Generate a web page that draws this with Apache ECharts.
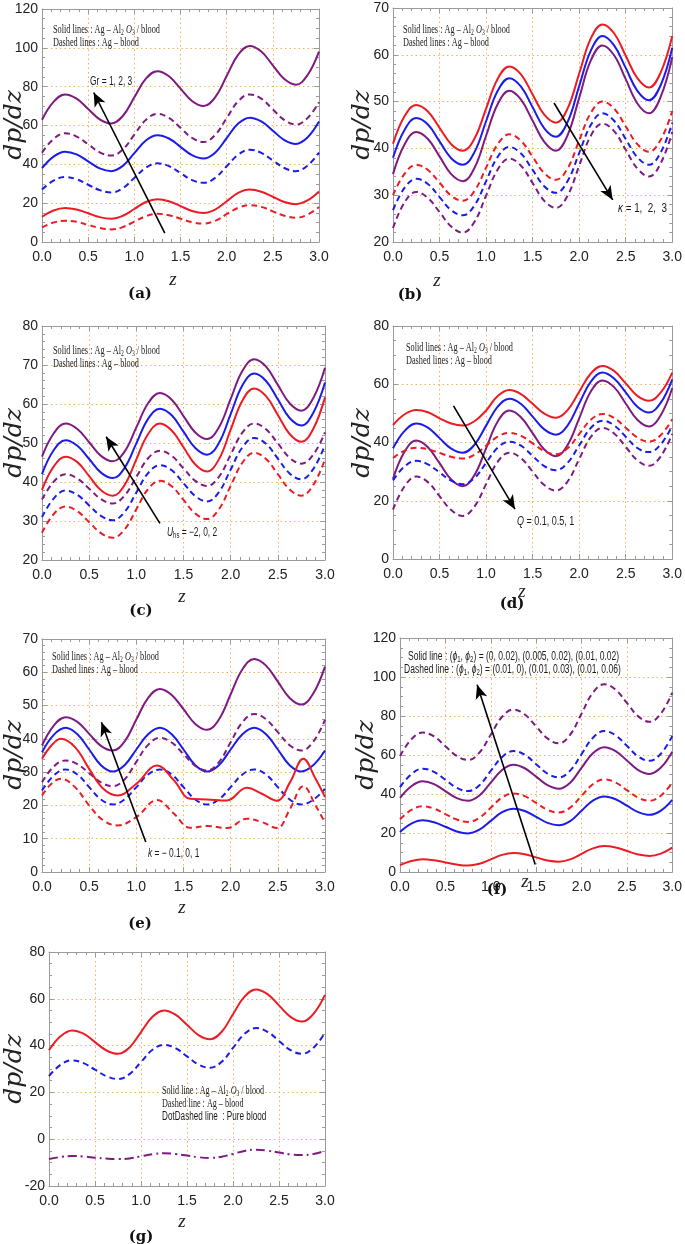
<!DOCTYPE html>
<html>
<head>
<meta charset="utf-8">
<script src="https://cdn.jsdelivr.net/npm/echarts@6/dist/echarts.min.js"></script>
<style>
  html, body { margin: 0; padding: 0; background: #fff; }
  #chart { width: 685px; height: 1244px; }
</style>
</head>
<body>
<div id="chart"></div>
<script>
// z samples every 0.125
const zs = [0, 0.125, 0.25, 0.375, 0.5, 0.625, 0.75, 0.875, 1, 1.125, 1.25, 1.375, 1.5,
            1.625, 1.75, 1.875, 2, 2.125, 2.25, 2.375, 2.5, 2.625, 2.75, 2.875, 3];
const xTicks = ['0.0', '0.5', '1.0', '1.5', '2.0', '2.5', '3.0'];

// (a) Gr = 1, 2, 3
const aPurpleSolid = [63, 72.2, 76, 73.8, 68.5, 63.2, 61, 64.9, 74.5, 84.1, 88, 85.4, 79, 72.6, 70, 74.5, 85.5, 96.5, 101, 98.1, 91, 83.9, 81, 85.9, 98];
const aPurpleDash = [46, 53.1, 56, 54.3, 50.3, 46.2, 44.5, 47.6, 55.3, 62.9, 66, 63.9, 58.8, 53.6, 51.5, 55.1, 63.8, 72.5, 76, 73.8, 68.3, 62.8, 60.5, 63.8, 72];
const aBlueSolid = [38, 44, 46.5, 45.1, 41.5, 37.9, 36.5, 39.2, 45.8, 52.3, 55, 53.3, 49, 44.7, 43, 46, 53.5, 61, 64, 62.1, 57.3, 52.5, 50.5, 53.8, 62];
const aBlueDash = [27, 31.6, 33.5, 32.3, 29.5, 26.7, 25.5, 27.7, 33, 38.3, 40.5, 39.1, 35.5, 31.9, 30.5, 33, 39, 45, 47.5, 45.9, 42, 38.1, 36.5, 39.3, 46];
const aRedSolid = [13, 16.2, 17.5, 16.7, 14.8, 12.8, 12, 13.5, 17, 20.6, 22, 21, 18.5, 16, 15, 16.7, 21, 25.3, 27, 25.9, 23.3, 20.6, 19.5, 21.4, 26];
const aRedDash = [7.5, 10, 11, 10.4, 8.8, 7.2, 6.5, 7.7, 10.5, 13.3, 14.5, 13.8, 12, 10.2, 9.5, 10.9, 14.3, 17.6, 19, 18.1, 15.8, 13.5, 12.5, 14.1, 18];

// (b) kappa = 1, 2, 3
const bRedSolid = [41, 46.9, 49.3, 47.9, 44.4, 40.9, 39.5, 42.1, 48.5, 54.9, 57.5, 55.8, 51.5, 47.2, 45.5, 48.5, 56, 63.5, 66.5, 64.6, 59.8, 55, 53, 56.2, 64];
const bBlueSolid = [38, 44, 46.5, 45.1, 41.5, 37.9, 36.5, 39.2, 45.8, 52.3, 55, 53.2, 48.8, 44.3, 42.5, 45.6, 53.3, 60.9, 64, 62, 57.2, 52.3, 50.3, 53.5, 61.5];
const bPurpleSolid = [34.5, 40.9, 43.5, 42, 38.3, 34.5, 33, 35.8, 42.7, 49.5, 52.3, 50.4, 45.9, 41.4, 39.5, 42.8, 50.8, 58.8, 62, 59.9, 54.8, 49.6, 47.5, 51, 59.5];
const bRedDash = [30, 34.6, 36.5, 35.4, 32.7, 29.9, 28.8, 30.9, 35.9, 40.9, 43, 41.6, 38.2, 34.7, 33.3, 35.7, 41.7, 47.6, 50, 48.5, 44.7, 40.9, 39.3, 41.8, 48];
const bBlueDash = [26.8, 31.6, 33.5, 32.4, 29.6, 26.8, 25.7, 27.8, 33, 38.2, 40.3, 38.9, 35.4, 31.9, 30.5, 33, 39, 45, 47.5, 45.9, 42, 38.1, 36.5, 39.1, 45.5];
const bPurpleDash = [23, 28.5, 30.7, 29.4, 26.4, 23.3, 22, 24.3, 29.9, 35.5, 37.8, 36.3, 32.6, 28.8, 27.3, 29.9, 36.3, 42.7, 45.3, 43.7, 39.7, 35.7, 34, 36.8, 43.5];

// (c) Uhs = -2, 0, 2
const cPurpleSolid = [46.5, 52.5, 55, 53.6, 50.2, 46.7, 45.3, 47.8, 54, 60.2, 62.8, 61.1, 56.9, 52.7, 51, 54, 61.3, 68.5, 71.5, 69.6, 64.9, 60.2, 58.3, 61.5, 69.3];
const cBlueSolid = [42, 48.2, 50.7, 49.3, 45.9, 42.4, 41, 43.6, 49.9, 56.2, 58.8, 57.1, 52.9, 48.7, 47, 50, 57.4, 64.8, 67.8, 65.9, 61.2, 56.4, 54.5, 57.7, 65.5];
const cRedSolid = [38, 44, 46.5, 45.1, 41.5, 37.9, 36.5, 39.2, 45.8, 52.3, 55, 53.2, 48.9, 44.5, 42.7, 45.8, 53.4, 60.9, 64, 62, 57.2, 52.3, 50.3, 53.6, 61.7];
const cPurpleDash = [35.5, 40.1, 42, 40.9, 38.3, 35.6, 34.5, 36.5, 41.3, 46.1, 48, 46.7, 43.5, 40.3, 39, 41.3, 47, 52.7, 55, 53.5, 49.9, 46.2, 44.7, 47, 52.7];
const cBlueDash = [31, 35.8, 37.8, 36.7, 34, 31.3, 30.2, 32.3, 37.3, 42.3, 44.3, 43, 39.7, 36.4, 35, 37.4, 43.2, 48.9, 51.3, 49.8, 46, 42.2, 40.7, 43.3, 49.5];
const cRedDash = [27, 31.8, 33.7, 32.5, 29.7, 26.9, 25.7, 27.8, 33, 38.2, 40.3, 38.9, 35.4, 31.9, 30.5, 33, 39, 45, 47.5, 45.9, 42, 38.1, 36.5, 39.2, 45.8];

// (d) Q = 0.1, 0.5, 1
const dRedSolid = [46, 49.7, 51.2, 50.4, 48.3, 46.5, 45.8, 47.3, 51, 56, 58, 56.6, 53.3, 49.9, 48.5, 51.1, 57.4, 63.7, 66.3, 64.6, 60.3, 56, 54.3, 57.1, 64];
const dBlueSolid = [38, 44, 46.5, 45.1, 41.5, 37.9, 36.5, 39.2, 45.8, 52.3, 55, 53.2, 48.9, 44.5, 42.7, 45.8, 53.4, 60.9, 64, 62, 57.2, 52.3, 50.3, 53.6, 61.7];
const dPurpleSolid = [27.5, 36.9, 40.7, 38.4, 32.9, 27.3, 25, 28.8, 38, 47.2, 51, 48.7, 43.2, 37.6, 35.3, 39.1, 48.3, 57.5, 61.3, 59, 53.4, 47.8, 45.5, 49.3, 58.7];
const dRedDash = [34.7, 37.2, 38.2, 37.7, 36.4, 35.1, 34.5, 35.8, 38.9, 42, 43.3, 42.3, 39.7, 37.1, 36, 38, 42.9, 47.8, 49.8, 48.4, 45.1, 41.7, 40.3, 42.5, 48];
const dBlueDash = [27, 31.8, 33.7, 32.5, 29.7, 26.9, 25.7, 27.8, 33, 38.2, 40.3, 38.9, 35.4, 31.9, 30.5, 33, 39, 45, 47.5, 45.9, 42, 38.1, 36.7, 39.3, 45.8];
const dPurpleDash = [17, 25, 28.3, 26.4, 21.6, 16.8, 14.8, 18, 25.7, 33.4, 36.5, 34.6, 30, 25.4, 23.5, 26.6, 34.3, 41.9, 45, 43.1, 38.5, 33.9, 32, 35.2, 43];

// (e) k = -0.1, 0, 1
const ePurpleSolid = [38, 44, 46.5, 45.1, 41.5, 37.9, 36.5, 39.2, 45.8, 52.3, 55, 53.2, 48.9, 44.5, 42.7, 45.8, 53.4, 60.9, 64, 62, 57.2, 52.3, 50.3, 53.6, 61.7];
const eBlueSolid = [36, 41.2, 43.3, 41.4, 36.8, 32.1, 30.2, 32.1, 36.8, 41.4, 43.3, 41.4, 36.8, 32.1, 30.2, 32.1, 36.8, 41.4, 43.3, 41.4, 36.8, 32.1, 30.2, 32.1, 36.5];
const ePurpleDash = [27, 31.7, 33.5, 32.4, 29.7, 26.9, 25.8, 27.8, 33.1, 38.2, 40.3, 38.9, 35.4, 31.9, 30.5, 33, 39, 45, 47.5, 45.9, 42, 38.1, 36.5, 39.1, 45.7];
const eBlueDash = [24.5, 29, 30.8, 29.3, 25.5, 21.8, 20.3, 21.8, 25.5, 29.3, 30.8, 29.3, 25.5, 21.8, 20.3, 21.8, 25.5, 29.3, 30.8, 29.3, 25.5, 21.8, 20.3, 21.7, 25];
const zsRed = [0, 0.1, 0.2, 0.35, 0.5, 0.65, 0.8, 1, 1.22, 1.4, 1.57, 1.75, 1.96, 2.17, 2.33, 2.49, 2.63, 2.77, 2.9, 3];
const eRedSolid = [34, 38, 40, 37.5, 31, 25, 23, 26.5, 32, 27.5, 22, 21.8, 21.5, 25.3, 23.5, 21.4, 27, 34, 28, 22.5];
const eRedDash = [23, 26.5, 28, 25.5, 20, 15.5, 14, 16.5, 21.6, 17.5, 13.3, 13.8, 13.2, 16, 15, 13.2, 19, 25.8, 20, 14.8];

// (f) (phi1, phi2)
const fPurpleDash = [59.5, 68, 71.5, 69.5, 64.5, 59.5, 57.5, 61.2, 70.4, 79.6, 83.3, 80.8, 74.7, 68.5, 66, 70.4, 81.2, 91.9, 96.3, 93.5, 86.7, 79.8, 77, 81.3, 92];
const fBlueDash = [43.5, 50.2, 53, 51.3, 47.3, 43.2, 41.5, 44.5, 51.8, 59, 62, 60.1, 55.3, 50.5, 48.5, 52, 60.4, 68.8, 72.3, 70.1, 64.7, 59.2, 57, 60.7, 69.7];
const fPurpleSolid = [38, 44, 46.5, 45.1, 41.5, 37.9, 36.5, 39.2, 45.8, 52.3, 55, 53.2, 48.9, 44.5, 42.7, 45.8, 53.4, 60.9, 64, 62, 57.2, 52.3, 50.3, 53.6, 61.7];
const fRedDash = [27, 31.8, 33.7, 32.5, 29.7, 26.9, 25.7, 27.8, 33, 38.2, 40.3, 38.9, 35.4, 31.9, 30.5, 33, 39, 45, 47.5, 45.9, 42, 38.1, 36.5, 39.2, 45.8];
const fBlueSolid = [20.5, 24.8, 26.5, 25.5, 23.2, 20.8, 19.8, 21.7, 26.2, 30.7, 32.5, 31.3, 28.3, 25.2, 24, 26.1, 31.4, 36.6, 38.7, 37.3, 34, 30.7, 29.3, 31.5, 37];
const fRedSolid = [3.5, 5.6, 6.5, 6, 4.9, 3.8, 3.3, 4.2, 6.5, 8.8, 9.7, 9.1, 7.5, 5.9, 5.3, 6.5, 9.3, 12.1, 13.3, 12.6, 10.8, 9, 8.2, 9.4, 12.5];

// (g) nanofluid vs pure blood
const gRedSolid = [38, 44, 46.5, 45.1, 41.5, 37.9, 36.5, 39.2, 45.8, 52.3, 55, 53.2, 48.9, 44.5, 42.7, 45.8, 53.4, 60.9, 64, 62, 57.2, 52.3, 50.3, 53.6, 61.7];
const gBlueDash = [27, 31.8, 33.7, 32.5, 29.7, 26.9, 25.7, 27.8, 33, 38.2, 40.3, 38.9, 35.4, 31.9, 30.5, 33, 39, 45, 47.5, 45.9, 42, 38.1, 36.5, 39.1, 45.5];
const gPurpleDotDash = [-8.5, -7.6, -7.2, -7.4, -7.9, -8.3, -8.5, -8.2, -7.3, -6.4, -6, -6.3, -7, -7.7, -8, -7.5, -6.3, -5, -4.5, -4.9, -5.7, -6.5, -6.8, -6.3, -5];

const RED = '#ec1c24', BLUE = '#1c1ce8', PURPLE = '#7e1a80';
const DASH = [6, 4];
const DOTDASH = [9, 4, 2, 4];

const panels = [
  { tag: '(a)', box: [42, 9, 277, 233], y: [0, 120, 20], minorY: 4,
    lines: [[aPurpleSolid, PURPLE, 'solid'], [aPurpleDash, PURPLE, DASH], [aBlueSolid, BLUE, 'solid'],
            [aBlueDash, BLUE, DASH], [aRedSolid, RED, 'solid'], [aRedDash, RED, DASH]],
    arrow: [[1.33, 4.6], [0.56, 77]], zPos: [173, 280], tagPos: [140, 294], yNamePos: [14, 125] },
  { tag: '(b)', box: [393, 8, 283, 234], y: [20, 70, 10], minorY: 5,
    lines: [[bRedSolid, RED, 'solid'], [bBlueSolid, BLUE, 'solid'], [bPurpleSolid, PURPLE, 'solid'],
            [bRedDash, RED, DASH], [bBlueDash, BLUE, DASH], [bPurpleDash, PURPLE, DASH]],
    arrow: [[1.73, 49.7], [2.36, 29]], zPos: [437, 281], tagPos: [410, 295], yNamePos: [362, 125] },
  { tag: '(c)', box: [42, 326, 283, 234], y: [20, 80, 10], minorY: 5,
    lines: [[cPurpleSolid, PURPLE, 'solid'], [cBlueSolid, BLUE, 'solid'], [cRedSolid, RED, 'solid'],
            [cPurpleDash, PURPLE, DASH], [cBlueDash, BLUE, DASH], [cRedDash, RED, DASH]],
    arrow: [[1.25, 29.4], [0.68, 51.6]], zPos: [182, 597], tagPos: [141, 611], yNamePos: [14, 443] },
  { tag: '(d)', box: [393, 326, 283, 233], y: [0, 80, 20], minorY: 4,
    lines: [[dRedSolid, RED, 'solid'], [dBlueSolid, BLUE, 'solid'], [dPurpleSolid, PURPLE, 'solid'],
            [dRedDash, RED, DASH], [dBlueDash, BLUE, DASH], [dPurpleDash, PURPLE, DASH]],
    arrow: [[0.65, 52.6], [1.31, 17.1]], zPos: [522, 592], tagPos: [512, 604], yNamePos: [362, 443] },
  { tag: '(e)', box: [42, 639, 283, 233], y: [0, 70, 10], minorY: 5,
    lines: [[ePurpleSolid, PURPLE, 'solid'], [eBlueSolid, BLUE, 'solid'], [ePurpleDash, PURPLE, DASH],
            [eBlueDash, BLUE, DASH], [eRedSolid, RED, 'solid', zsRed], [eRedDash, RED, DASH, zsRed]],
    arrow: [[1.1, 9], [0.63, 45]], zPos: [182, 908], tagPos: [140, 924], yNamePos: [14, 755] },
  { tag: '(f)', box: [400, 638, 276, 234], y: [0, 120, 20], minorY: 4,
    lines: [[fPurpleDash, PURPLE, DASH], [fBlueDash, BLUE, DASH], [fPurpleSolid, PURPLE, 'solid'],
            [fRedDash, RED, DASH], [fBlueSolid, BLUE, 'solid'], [fRedSolid, RED, 'solid']],
    arrow: [[1.49, 3.8], [0.85, 96]], zPos: [525, 882], tagPos: [497, 890], yNamePos: [366, 755] },
  { tag: '(g)', box: [49, 952, 276, 234], y: [-20, 80, 20], minorY: 4,
    lines: [[gRedSolid, RED, 'solid'], [gBlueDash, BLUE, DASH], [gPurpleDotDash, PURPLE, DOTDASH]],
    arrow: null, zPos: [182, 1222], tagPos: [141, 1237], yNamePos: [14, 1069] }
];

const tickFont = '"Liberation Sans Narrow", "Liberation Sans", Arial, sans-serif';
const serif = '"Liberation Serif", "Times New Roman", serif';
const FRAME = '#9a9a9a';
const GRIDC = '#efb25a';

const grid = [], xAxis = [], yAxis = [], series = [], graphic = [];

panels.forEach((p, i) => {
  const [l, t, w, h] = p.box;
  grid.push({ left: l, top: t, width: w, height: h });
  const base = {
    gridIndex: i, type: 'value',
    axisLine: { show: true, onZero: false, lineStyle: { color: FRAME, width: 1 } },
    axisTick: { show: true, inside: true, length: 5, lineStyle: { color: FRAME } },
    minorTick: { show: true, length: 3, lineStyle: { color: FRAME } },
  };
  const lbl = { color: '#222', fontFamily: tickFont, fontSize: 14 };
  xAxis.push(Object.assign({}, base, {
    position: 'bottom', min: 0, max: 3, interval: 0.5,
    minorTick: Object.assign({}, base.minorTick, { splitNumber: 5 }),
    axisLabel: Object.assign({}, lbl, { margin: 8, formatter: v => xTicks[Math.round(v / 0.5)] }),
    splitLine: { show: true, lineStyle: { color: GRIDC, type: [1.5, 3], width: 1 } }
  }));
  xAxis.push(Object.assign({}, base, {
    position: 'top', min: 0, max: 3, interval: 0.5,
    minorTick: Object.assign({}, base.minorTick, { splitNumber: 5 }),
    axisLabel: { show: false }, splitLine: { show: false }
  }));
  yAxis.push(Object.assign({}, base, {
    position: 'left', min: p.y[0], max: p.y[1], interval: p.y[2],
    minorTick: Object.assign({}, base.minorTick, { splitNumber: p.minorY }),
    axisLabel: Object.assign({}, lbl, { margin: 4 }),
    splitLine: { show: true, lineStyle: { color: GRIDC, type: [1.5, 3], width: 1 } }
  }));
  yAxis.push(Object.assign({}, base, {
    position: 'right', min: p.y[0], max: p.y[1], interval: p.y[2],
    minorTick: Object.assign({}, base.minorTick, { splitNumber: p.minorY }),
    axisLabel: { show: false }, splitLine: { show: false }
  }));

  p.lines.forEach((ln, k) => {
    const xs = ln[3] || zs;
    const s = {
      type: 'line', xAxisIndex: 2 * i, yAxisIndex: 2 * i,
      data: ln[0].map((v, j) => [xs[j], v]),
      showSymbol: false, smooth: 0.4, silent: true,
      lineStyle: { color: ln[1], width: 2, type: ln[2] }, z: 3
    };
    if (k === 0 && p.arrow) {
      s.markLine = {
        silent: true, symbol: ['none', 'arrow'], symbolSize: [9, 14],
        label: { show: false },
        lineStyle: { color: '#000', width: 1.6, type: 'solid' },
        data: [[{ coord: p.arrow[0] }, { coord: p.arrow[1] }]]
      };
    }
    series.push(s);
  });

  graphic.push({ type: 'text', x: p.zPos[0], y: p.zPos[1],
    style: { text: 'z', font: 'italic 19px ' + serif, fill: '#222', align: 'center', verticalAlign: 'middle' } });
  graphic.push({ type: 'text', x: p.tagPos[0], y: p.tagPos[1],
    style: { text: p.tag, font: 'bold 15px "DejaVu Serif", serif', fill: '#111', align: 'center', verticalAlign: 'middle' } });
  graphic.push({ type: 'text', x: p.yNamePos[0], y: p.yNamePos[1], rotation: Math.PI / 2,
    style: { text: 'dp/dz', font: 'italic 25px "DejaVu Serif", serif', fill: '#222', align: 'center', verticalAlign: 'middle' } });
});

// notes inside the panels
const noteRich = {
  n: { fontFamily: serif, fontSize: 12.5, color: '#1a1a1a' },
  i: { fontFamily: serif, fontSize: 12.5, fontStyle: 'italic', color: '#1a1a1a' },
  s: { fontFamily: serif, fontSize: 8.5, color: '#1a1a1a', padding: [6, 0, 0, 0] }
};
function note(x, y, text, sx) {
  graphic.push({ type: 'text', x: x, y: y, scaleX: sx || 0.66, z: 10,
    style: { text: text, rich: noteRich, align: 'left', verticalAlign: 'middle', fill: '#1a1a1a' } });
}
const solidTxt = '{n|Solid lines : Ag \u2013 Al}{s|2}{i| O}{s|3}{n| / blood}';
const dashedTxt = '{n|Dashed lines : Ag \u2013 blood}';
[[53, 30], [403, 30], [53, 351], [406, 348], [52, 657]].forEach(pt => {
  note(pt[0], pt[1], solidTxt);
  note(pt[0], pt[1] + 13, dashedTxt);
});
note(162, 1091, '{n|Solid line : Ag \u2013 Al}{s|2}{i| O}{s|3}{n| / blood}', 0.65);
note(162, 1104, '{n|Dashed line : Ag \u2013 blood}', 0.65);

const sansRich = {
  n: { fontFamily: tickFont, fontSize: 12, color: '#1a1a1a' },
  i: { fontFamily: tickFont, fontSize: 12, fontStyle: 'italic', color: '#1a1a1a' },
  s: { fontFamily: tickFont, fontSize: 8.5, color: '#1a1a1a', padding: [6, 0, 0, 0] }
};
function sans(x, y, text, sx) {
  graphic.push({ type: 'text', x: x, y: y, scaleX: sx || 1, z: 10,
    style: { text: text, rich: sansRich, align: 'left', verticalAlign: 'middle', fill: '#1a1a1a' } });
}
sans(162, 1117, '{n|DotDashed line  : Pure blood}', 0.68);
sans(408, 657, '{n|Solid line : (}{i|\u03d5}{s|1}{n|, }{i|\u03d5}{s|2}{n|) = (0, 0.02), (0.005, 0.02), (0.01, 0.02)}', 0.71);
sans(404, 670, '{n|Dashed line : (}{i|\u03d5}{s|1}{n|, }{i|\u03d5}{s|2}{n|) = (0.01, 0), (0.01, 0.03), (0.01, 0.06)}', 0.71);
sans(90, 82, '{n|Gr = 1, 2, 3}', 0.7);
sans(618, 209, '{i|\u03ba}{n| = 1,  2,  3}', 0.82);
sans(167, 533, '{i|U}{s|hs}{n| = \u22122, 0, 2}', 0.7);
sans(517, 522, '{i|Q}{n| = 0.1, 0.5, 1}', 0.75);
sans(148, 854, '{i|k}{n| = \u2212 0.1, 0, 1}', 0.7);

const chart = echarts.init(document.getElementById('chart'));
chart.setOption({
  animation: false,
  backgroundColor: '#fff',
  grid: grid, xAxis: xAxis, yAxis: yAxis, series: series, graphic: graphic
});
</script>
</body>
</html>
